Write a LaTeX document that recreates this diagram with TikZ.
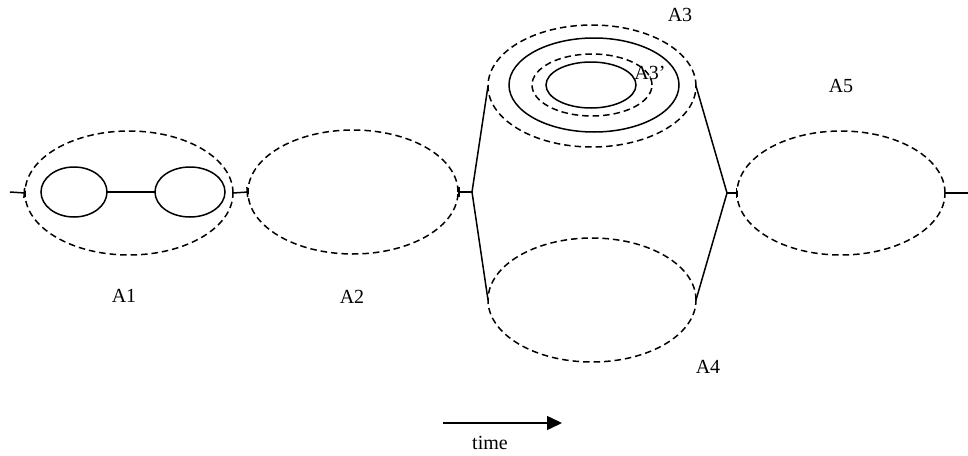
\documentclass[tikz,border=0pt]{standalone}
\usepackage{fontspec}
\setmainfont{Liberation Serif}
\usetikzlibrary{shapes.geometric,arrows.meta}
\begin{document}
\begin{tikzpicture}[x=1pt,y=-1pt,
  dashline/.style={draw,dash pattern=on 6.5pt off 4pt,line width=1.5pt},
  ell/.style={ellipse,inner sep=0pt,outer sep=0pt},
  solidell/.style={ellipse,inner sep=0pt,outer sep=0pt,draw,line width=1.5pt},
  conn/.style={line width=1.5pt},
  barend/.style={-{Bar[width=10pt]}},
  barstart/.style={{Bar[width=10pt]}-},
  lbl/.style={font=\fontsize{20}{23}\selectfont,inner sep=0pt}]
\useasboundingbox (0,0) rectangle (968,455);
% A1
\node[ell,dashline,minimum width=208pt,minimum height=124pt] (A1) at (129,193) {};
\node[solidell,minimum width=66pt,minimum height=50pt] (A1a) at (74,192) {};
\node[solidell,minimum width=70pt,minimum height=50pt] (A1b) at (190,192) {};
\draw[conn] (A1a.east) -- (A1b.west);
% A2
\node[ell,dashline,minimum width=210pt,minimum height=124pt] (A2) at (353,192) {};
% A3
\node[ell,dashline,minimum width=208pt,minimum height=122pt] (A3) at (592,86) {};
\node[solidell,minimum width=170pt,minimum height=94pt] (A3o) at (594,85) {};
\node[ell,dashline,minimum width=120pt,minimum height=62pt] (A3d) at (592,85) {};
\node[solidell,minimum width=90pt,minimum height=46pt] (A3i) at (591,85) {};
% A4
\node[ell,dashline,minimum width=208pt,minimum height=124pt] (A4) at (592,300) {};
% A5
\node[ell,dashline,minimum width=208pt,minimum height=124pt] (A5) at (841,193) {};
% junctions
\coordinate (L) at (10,192);
\coordinate (J1) at (472,192);
\coordinate (J2) at (727,193);
\coordinate (R) at (968,193);
\draw[conn,barend] (L) -- (A1.west);
\draw[conn,barend] (A1.east) -- (A2.west);
\draw[conn,barstart] (A2.east) -- (J1);
\draw[conn] (A3.west) -- (J1) -- (A4.west);
\draw[conn] (A3.east) -- (J2) -- (A4.east);
\draw[conn,barend] (J2) -- (A5.west);
\draw[conn] (A5.east) -- (R);
% labels
\node[lbl] (t1) at (124,296) {A1};
\node[lbl] (t2) at (352,297) {A2};
\node[lbl] (t3) at (680,15) {A3};
\node[lbl] (t3p) at (650,73) {A3’};
\node[lbl] (t4) at (708,367) {A4};
\node[lbl] (t5) at (841,86) {A5};
% time arrow
\coordinate (T0) at (443,423);
\coordinate (T1) at (562,423);
\draw[conn,-{Triangle[length=15pt,width=14pt]}] (T0) -- (T1);
\node[lbl] (tt) at (490,443) {time};
\end{tikzpicture}
\end{document}
